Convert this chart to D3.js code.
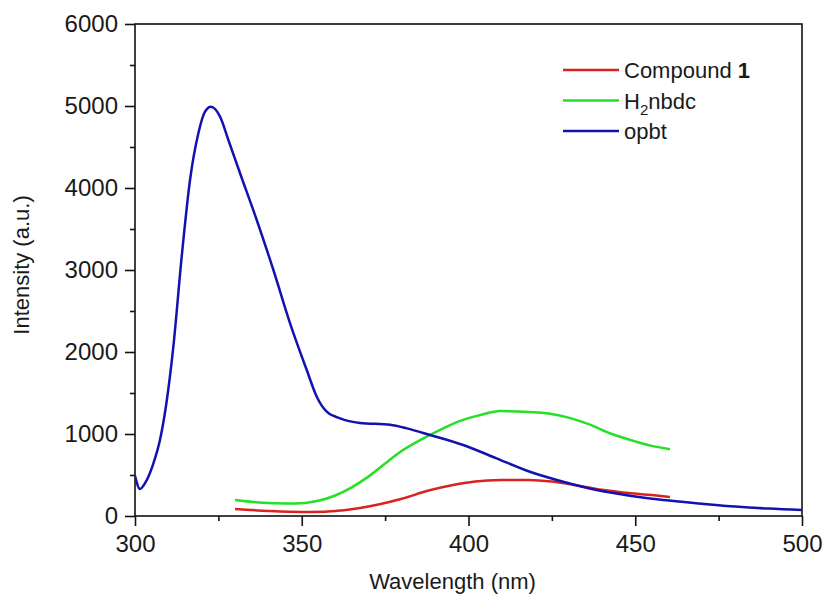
<!DOCTYPE html>
<html>
<head>
<meta charset="utf-8">
<script src="https://cdn.jsdelivr.net/npm/d3@7/dist/d3.min.js"></script>
<style>
  html, body { margin: 0; padding: 0; background: #fff; }
  svg { display: block; }
  text { font-family: "Liberation Sans", Arial, sans-serif; fill: #1a1a1a; }
</style>
</head>
<body>
<svg id="chart" width="825" height="596"></svg>
<script>
// ---- data ----
const opbtWavelength = [300, 301.5, 303, 305.5, 307.5, 309.5, 311.5, 314, 316.5, 319, 321, 322.8, 325.5, 328, 331.5, 336.5, 341.5, 346.5, 351.5, 354.5, 357.5, 361.5, 367.5, 376.5, 381.5, 388.5, 398.4, 408.4, 418.4, 428.4, 438.4, 448.4, 458.4, 470, 480, 490, 500];
const opbtIntensity  = [490, 330, 400, 640, 930, 1400, 2065, 3162, 4098, 4667, 4931, 4990, 4870, 4585, 4180, 3610, 3000, 2350, 1780, 1455, 1272, 1191, 1135, 1112, 1069, 988, 866, 703, 540, 418, 317, 248, 195, 150, 115, 90, 73];

const h2nbdcWavelength = [330, 337, 345.5, 351, 355, 360, 365, 370, 375, 379.5, 385.5, 391.5, 397.5, 403.5, 409.5, 418, 424, 430, 436, 443, 450, 455, 460.4];
const h2nbdcIntensity  = [195, 165, 152, 160, 185, 250, 350, 480, 640, 780, 925, 1050, 1160, 1230, 1280, 1268, 1250, 1200, 1120, 1000, 910, 855, 815];

const compoundWavelength = [330, 340, 350, 357, 362, 367, 373, 380, 388, 395, 402, 410, 418, 425, 433, 440, 448, 455, 460.4];
const compoundIntensity  = [85, 62, 50, 52, 68, 95, 140, 210, 310, 375, 420, 438, 440, 420, 370, 320, 280, 255, 232];

const xTicks = [300, 350, 400, 450, 500];
const yTicks = [0, 1000, 2000, 3000, 4000, 5000, 6000];
const xMinorTicks = [325, 375, 425, 475];
const yMinorTicks = [500, 1500, 2500, 3500, 4500, 5500];

// ---- layout ----
const svg = d3.select("#chart");
const padL = 135, padR = 802, padT = 24, padB = 516;
const x = d3.scaleLinear().domain([300, 500]).range([padL, padR]);
const y = d3.scaleLinear().domain([0, 6000]).range([padB, padT]);

const colors = { compound: "#d8231f", h2nbdc: "#25e025", opbt: "#1212b0" };

// frame
svg.append("rect")
  .attr("x", padL).attr("y", padT)
  .attr("width", padR - padL).attr("height", padB - padT)
  .attr("fill", "none").attr("stroke", "#111").attr("stroke-width", 1.6);

// axes
const xAxis = d3.axisBottom(x).tickValues(xTicks).tickSize(10).tickPadding(9).tickFormat(d3.format("d"));
const gx = svg.append("g").attr("transform", `translate(0,${padB})`).call(xAxis);
const yAxis = d3.axisLeft(y).tickValues(yTicks).tickSize(10).tickPadding(7).tickFormat(d3.format("d"));
const gy = svg.append("g").attr("transform", `translate(${padL},0)`).call(yAxis);

[gx, gy].forEach(g => {
  g.select(".domain").remove();
  g.selectAll(".tick line").attr("stroke", "#111").attr("stroke-width", 1.6);
  g.selectAll(".tick text")
    .attr("font-family", "'Liberation Sans', Arial, sans-serif")
    .attr("font-size", 24).attr("fill", "#1a1a1a");
});

// minor ticks
svg.append("g").attr("transform", `translate(0,${padB})`)
  .call(d3.axisBottom(x).tickValues(xMinorTicks).tickSize(5).tickFormat(""))
  .call(g => g.select(".domain").remove())
  .selectAll(".tick line").attr("stroke", "#111").attr("stroke-width", 1.6);
svg.append("g").attr("transform", `translate(${padL},0)`)
  .call(d3.axisLeft(y).tickValues(yMinorTicks).tickSize(5).tickFormat(""))
  .call(g => g.select(".domain").remove())
  .selectAll(".tick line").attr("stroke", "#111").attr("stroke-width", 1.6);

// axis titles
svg.append("text")
  .attr("x", (padL + padR) / 2 - 16).attr("y", 589)
  .attr("text-anchor", "middle").attr("font-size", 22)
  .text("Wavelength (nm)");
svg.append("text")
  .attr("transform", `translate(29,265) rotate(-90)`)
  .attr("text-anchor", "middle").attr("font-size", 22)
  .text("Intensity (a.u.)");

// lines
const line = d3.line().x(d => x(d[0])).y(d => y(d[1])).curve(d3.curveMonotoneX);
svg.append("clipPath").attr("id", "clip").append("rect")
  .attr("x", padL).attr("y", padT).attr("width", padR - padL).attr("height", padB - padT);

const series = [
  { key: "compound", w: compoundWavelength, v: compoundIntensity },
  { key: "h2nbdc", w: h2nbdcWavelength, v: h2nbdcIntensity },
  { key: "opbt", w: opbtWavelength, v: opbtIntensity }
];
series.forEach(s => {
  svg.append("path")
    .datum(s.w.map((w, i) => [w, s.v[i]]))
    .attr("d", line)
    .attr("fill", "none")
    .attr("stroke", colors[s.key])
    .attr("stroke-width", 2.5)
    .attr("stroke-linejoin", "round")
    .attr("clip-path", "url(#clip)");
});

// legend
const legend = svg.append("g");
const legendKeys = ["compound", "h2nbdc", "opbt"];
legendKeys.forEach((k, i) => {
  const ly = 70 + i * 30.5;
  legend.append("line")
    .attr("x1", 563).attr("x2", 619).attr("y1", ly).attr("y2", ly)
    .attr("stroke", colors[k]).attr("stroke-width", 2.5);
  const t = legend.append("text").attr("x", 624).attr("y", ly + 8).attr("font-size", 22);
  if (k === "compound") {
    t.append("tspan").text("Compound ");
    t.append("tspan").attr("font-weight", "bold").text("1");
  } else if (k === "h2nbdc") {
    t.append("tspan").text("H");
    t.append("tspan").attr("font-size", 15).attr("dy", 6).text("2");
    t.append("tspan").attr("dy", -6).text("nbdc");
  } else {
    t.text("opbt");
  }
});
</script>
</body>
</html>
